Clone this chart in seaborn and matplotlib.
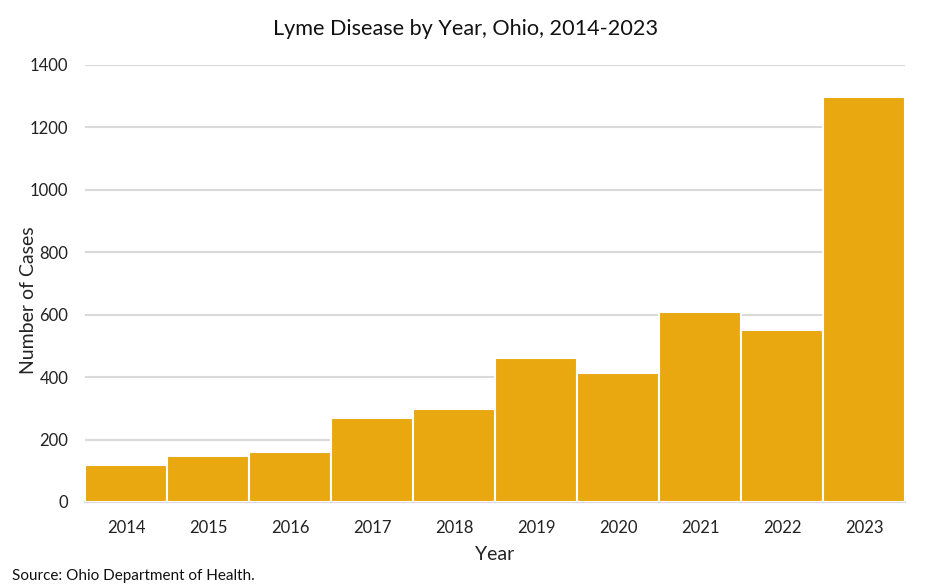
import matplotlib
matplotlib.use("Agg")
import matplotlib.pyplot as plt
import seaborn as sns
import pandas as pd

years = ["2014", "2015", "2016", "2017", "2018", "2019", "2020", "2021", "2022", "2023"]
cases = [117, 146, 159, 268, 297, 461, 413, 610, 552, 1298]

sns.set_theme(style="white")
plt.rcParams["font.family"] = ["Lato", "DejaVu Sans"]

df = pd.DataFrame({"Year": years, "Cases": cases})

fig = plt.figure(figsize=(9.32, 5.88), dpi=100)
ax = fig.add_axes([0.0912, 0.1463, 0.8798, 0.7432])

sns.barplot(data=df, x="Year", y="Cases", color="#E9A80F", width=1.0,
            edgecolor="white", linewidth=1.5, saturation=1, ax=ax, zorder=3)

ax.set_ylim(0, 1400)
ax.set_xlim(-0.5, 9.5)
ax.set_yticks(range(0, 1401, 200))
ax.yaxis.grid(True, color="#d9d9d9", linewidth=1.5, zorder=0)
ax.set_axisbelow(True)
for s in ["top", "right", "left"]:
    ax.spines[s].set_visible(False)
ax.spines["bottom"].set_color("#d9d9d9")
ax.spines["bottom"].set_linewidth(1.5)
ax.tick_params(axis="both", length=0, labelsize=12, colors="#222222")
ax.tick_params(axis="x", pad=13)
ax.tick_params(axis="y", pad=12)

ax.set_xlabel("Year", fontsize=14, color="#222222", labelpad=7)
ax.set_ylabel("Number of Cases", fontsize=14, color="#222222")
ax.yaxis.set_label_coords(-0.0585, 0.462)
fig.suptitle("Lyme Disease by Year, Ohio, 2014-2023", fontsize=15.6, color="#111111", y=0.967)
fig.text(0.013, 0.014, "Source: Ohio Department of Health.", fontsize=11, color="#111111")

fig.savefig("out.png", dpi=100)
